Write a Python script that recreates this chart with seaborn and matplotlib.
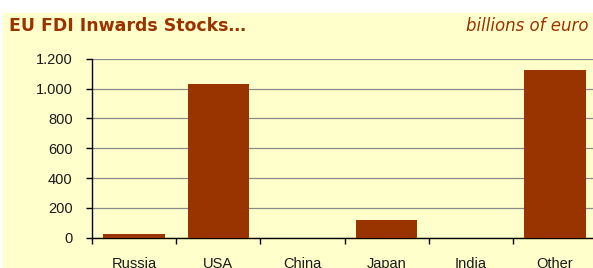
import matplotlib
matplotlib.use("Agg")
import matplotlib.pyplot as plt
import seaborn as sns
import pandas as pd
from matplotlib.patches import Rectangle
from matplotlib.ticker import FuncFormatter

categories = ["Russia", "USA", "China", "Japan", "India", "Other"]
values = [25, 1030, 0, 115, 0, 1125]
y_ticks = [0, 200, 400, 600, 800, 1000, 1200]
title = "EU FDI Inwards Stocks…"
unit = "billions of euro"

BG = "#FFFFCC"
BAR = "#993300"

sns.set_theme(style="white")
plt.rcParams["font.family"] = ["Liberation Sans", "DejaVu Sans"]

W, H = 593, 268
fig = plt.figure(figsize=(W / 100, H / 100), dpi=100)
fig.patch.set_facecolor("white")
fig.patches.append(Rectangle((3 / W, 0), 1, 1 - 13 / H, transform=fig.transFigure,
                             facecolor=BG, edgecolor="none", zorder=-10))

ax = fig.add_axes([92 / W, (H - 237.5) / H, 505 / W, 178.5 / H])
ax.set_zorder(2)
ax.set_facecolor(BG)
ax.patch.set_alpha(0)

df = pd.DataFrame({"cat": categories, "val": values})
sns.barplot(data=df, x="cat", y="val", color=BAR, saturation=1, width=0.73, ax=ax,
            zorder=3, edgecolor=BAR, linewidth=0)

ax.set_xlim(-0.5, 5.5)
ax.set_ylim(0, 1200)
ax.set_yticks(y_ticks)
ax.yaxis.set_major_formatter(FuncFormatter(lambda v, p: f"{int(v):,}".replace(",", ".")))
ax.grid(axis="y", color="#8a8a8a", linewidth=0.9, zorder=1)
ax.set_axisbelow(True)

ax.set_xticks([i + 0.5 for i in range(-1, 6)], minor=False)
ax.set_xticklabels([])
ax.set_xticks(range(6), minor=True)
ax.set_xticklabels(categories, minor=True)
ax.tick_params(axis="x", which="major", direction="out", length=4, width=1, color="black", bottom=True)
ax.tick_params(axis="x", which="minor", length=0, pad=14, labelsize=10.5, labelcolor="#1a1a1a")
ax.tick_params(axis="y", direction="out", length=4, width=1, color="black", left=True,
               labelsize=10.5, labelcolor="#1a1a1a", pad=10)

for s in ["top", "right"]:
    ax.spines[s].set_visible(False)
for s in ["left", "bottom"]:
    ax.spines[s].set_color("black")
    ax.spines[s].set_linewidth(1)
ax.set_xlabel("")
ax.set_ylabel("")

fig.text(9 / W, 1 - 26 / H, title, color=BAR, fontsize=12.5, fontweight="bold",
         family=["DejaVu Sans"], va="center", ha="left")
fig.text(588 / W, 1 - 26 / H, unit, color=BAR, fontsize=12, style="italic",
         family=["DejaVu Sans"], va="center", ha="right")

fig.savefig("out.png", dpi=100, facecolor=fig.get_facecolor())
